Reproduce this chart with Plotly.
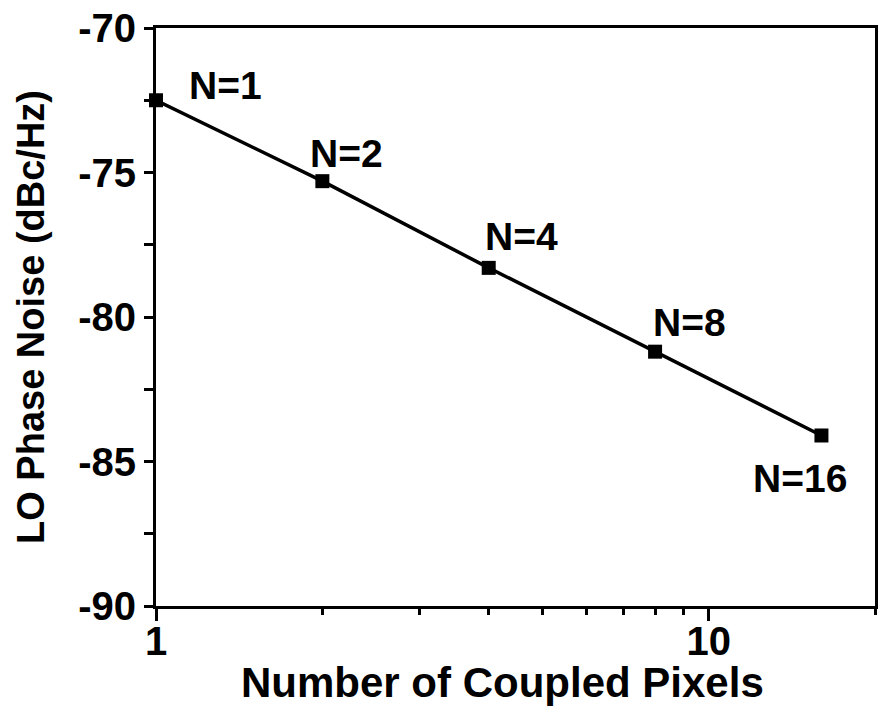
import math
import plotly.graph_objects as go

# Coupled-pixel counts and measured LO phase noise
pixels = [1, 2, 4, 8, 16]
phase_noise = [-72.5, -75.3, -78.3, -81.2, -84.1]
point_labels = ["N=1", "N=2", "N=4", "N=8", "N=16"]
# label offsets (px) relative to each point
label_dx = [69, 24, 33, 34, -21]
label_dy = [15, 28, 31, 29, -43]

y_ticks = [-90, -85, -80, -75, -70]
x_ticks = [1, 10]

FONT = "Liberation Sans, Arial, sans-serif"

fig = go.Figure()
fig.add_trace(go.Scatter(
    x=pixels, y=phase_noise, mode="lines+markers",
    line=dict(color="black", width=3.5),
    marker=dict(symbol="square", size=14, color="black"),
    cliponaxis=False, showlegend=False,
))

# annotations on a log axis are placed in log10 units
for x, y, t, dx, dy in zip(pixels, phase_noise, point_labels, label_dx, label_dy):
    fig.add_annotation(x=math.log10(x), y=y, xref="x", yref="y", text=f"<b>{t}</b>",
                       showarrow=False, xshift=dx, yshift=dy,
                       font=dict(family=FONT, size=39, color="black"))

# x-axis title
fig.add_annotation(x=0.482, y=-0.133, xref="paper", yref="paper",
                   text="<b>Number of Coupled Pixels</b>", showarrow=False,
                   xanchor="center", yanchor="middle",
                   font=dict(family=FONT, size=42, color="black"))

fig.update_layout(
    width=882, height=719,
    margin=dict(l=156, r=4, t=28, b=113),
    paper_bgcolor="white", plot_bgcolor="white",
    font=dict(family=FONT, color="black"),
)

fig.update_xaxes(
    type="log", range=[0, 1.30103],
    showline=True, linewidth=3, linecolor="black", mirror=True,
    showgrid=False, zeroline=False,
    tickmode="array", tickvals=x_ticks, ticktext=[f"<b>{v}</b>" for v in x_ticks],
    ticks="outside", ticklen=12, tickwidth=2.5, tickcolor="black",
    ticklabelstandoff=-14,
    tickfont=dict(family=FONT, size=40, color="black"),
    minor=dict(tickmode="array", tickvals=[2, 3, 4, 5, 6, 7, 8, 9, 20],
               ticks="outside", ticklen=6, tickwidth=2.5, tickcolor="black",
               showgrid=False),
)

fig.update_yaxes(
    range=[-90, -70],
    showline=True, linewidth=3, linecolor="black", mirror=True,
    showgrid=False, zeroline=False,
    tickmode="array", tickvals=y_ticks, ticktext=[f"<b>{v}</b>" for v in y_ticks],
    ticks="outside", ticklen=9, tickwidth=2.5, tickcolor="black",
    tickfont=dict(family=FONT, size=40, color="black"),
    minor=dict(tickmode="array", tickvals=[-87.5, -82.5, -77.5, -72.5],
               ticks="outside", ticklen=9, tickwidth=2.5, tickcolor="black",
               showgrid=False),
    title=dict(text="<b>LO Phase Noise (dBc/Hz)</b>",
               font=dict(family=FONT, size=38, color="black"), standoff=22),
)

fig.write_html("out.html")
